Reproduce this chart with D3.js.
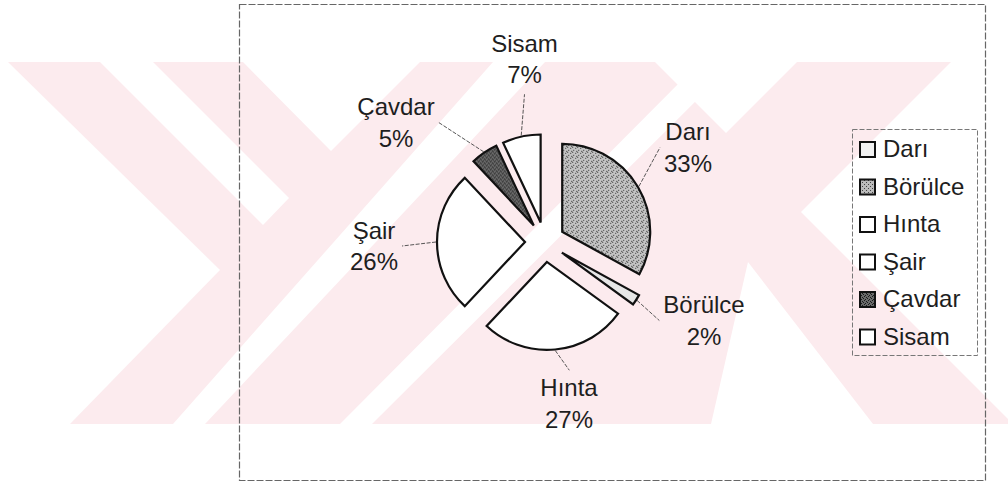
<!DOCTYPE html>
<html>
<head>
<meta charset="utf-8">
<script src="https://cdnjs.cloudflare.com/ajax/libs/d3/7.8.5/d3.min.js"></script>
<style>
  body { margin: 0; background: #fff; }
  text { font-family: "Liberation Sans", Arial, sans-serif; fill: #1e1e1e; }
</style>
</head>
<body>
<div id="main"></div>
<script>
// data
var crops = ["Darı", "Börülce", "Hınta", "Şair", "Çavdar", "Sisam"];
var shares = [33, 2, 27, 26, 5, 7];

// label block offsets from the pie centre (layout only)
var labelOffsets = [[143, -94], [159, 79], [24, 162], [-171, 4.5], [-149, -119], [-20.5, -182.5]];

// fills
var pieFills = ["url(#dari)", "#e6e6e6", "#fff", "#fff", "url(#cavdar)", "#fff"];
var legendFills = ["#f2f2f2", "url(#borulce)", "#fff", "#fff", "url(#cavdar)", "#fff"];

// scanned-page watermark: pale band with white cut-outs (decoration only)
var wmGaps = [
  [[0,62],[8,62],[220,270],[70,424],[0,424]],
  [[100,62],[153,62],[289,198],[263,225]],
  [[243,62],[420,62],[331,151]],
  [[493,62],[545,62],[205,424],[173,424]],
  [[700,62],[735,62],[372,424],[340,424]],
  [[655,62],[797,62],[726,133]],
  [[748,262],[873,424],[711,424]],
  [[801,212],[951,62],[1008,62],[1008,419]]
];

var width = 1008, height = 484;
var bandTop = 62, bandBottom = 424;
var cx = 545, cy = 242, radius = 88, explode = 20;
var fontSize = 24, lineGap = 31.5;

var svg = d3.select('#main').append('svg')
  .attr('width', width).attr('height', height);

var defs = svg.append('defs');

// stipple patterns
function stipple(id, bg, dot, size, pts){
  var p = defs.append('pattern').attr('id', id)
    .attr('patternUnits', 'userSpaceOnUse')
    .attr('width', size).attr('height', size);
  p.append('rect').attr('width', size).attr('height', size).attr('fill', bg);
  pts.forEach(function(q){
    p.append('rect').attr('x', q[0]).attr('y', q[1]).attr('width', 1).attr('height', 1).attr('fill', dot);
  });
}
stipple('dari', '#c4c4c4', '#333', 5, [[0,0],[3,1],[1,3],[4,4]]);
stipple('borulce', '#bcbcbc', '#444', 4, [[0,0],[2,2]]);
stipple('cavdar', '#6a6a6a', '#1a1a1a', 4, [[0,0],[2,1],[1,3],[3,2]]);

// watermark
var wm = svg.append('g');
wm.append('rect').attr('x', 0).attr('y', bandTop).attr('width', width).attr('height', bandBottom - bandTop)
  .attr('fill', '#fcebee');
wm.selectAll('polygon').data(wmGaps).enter().append('polygon')
  .attr('points', function(d){ return d.join(' '); })
  .attr('fill', '#fff');

// chart frame
svg.append('rect').attr('x', 239.5).attr('y', 4.5).attr('width', 746).attr('height', 476)
  .attr('fill', 'none').attr('stroke', '#666').attr('stroke-width', 1.2).attr('stroke-dasharray', '7 2');

// pie
var pie = d3.pie().sort(null).value(function(d){ return d; });
var arcs = pie(shares);
var arc = d3.arc().innerRadius(0).outerRadius(radius);

function dir(a){ return [Math.sin(a), -Math.cos(a)]; }

var slices = svg.append('g').attr('transform', 'translate(' + cx + ',' + cy + ')');
slices.selectAll('path').data(arcs).enter().append('path')
  .attr('d', arc)
  .attr('transform', function(d){
    var m = dir((d.startAngle + d.endAngle) / 2);
    return 'translate(' + (m[0] * explode) + ',' + (m[1] * explode) + ')';
  })
  .attr('fill', function(d, i){ return pieFills[i]; })
  .attr('stroke', '#111').attr('stroke-width', 2.2).attr('stroke-linejoin', 'miter');

// data labels with leader lines
var labels = svg.append('g');
arcs.forEach(function(d, i){
  var lx = cx + labelOffsets[i][0], ly = cy + labelOffsets[i][1];
  var t = labels.append('text').attr('text-anchor', 'middle').style('font-size', fontSize + 'px');
  t.append('tspan').attr('x', lx).attr('y', ly - 7.75).text(crops[i]);
  t.append('tspan').attr('x', lx).attr('y', ly - 7.75 + lineGap).text(d3.format('d')(shares[i]) + '%');
  var bb = t.node().getBBox();
  var m = dir((d.startAngle + d.endAngle) / 2);
  var px = cx + m[0] * (radius + explode + 1), py = cy + m[1] * (radius + explode + 1);
  var hw = bb.width / 2, hh = bb.height / 2;
  var bx = bb.x + hw, by = bb.y + hh;
  var ex, ey;
  if (Math.abs(px - bx) / hw > Math.abs(py - by) / hh) {
    ex = px < bx ? bb.x - 4 : bb.x + bb.width + 4; ey = by;
  } else {
    ex = bx; ey = py < by ? bb.y - 4 : bb.y + bb.height + 6;
  }
  labels.append('line').attr('x1', px).attr('y1', py).attr('x2', ex).attr('y2', ey)
    .attr('stroke', '#444').attr('stroke-width', 0.9).attr('stroke-dasharray', '4 1.5');
});

// legend
var legX = 852, legY = 129, rowStep = 37.5;
var legend = svg.append('g');
legend.append('rect').attr('x', legX + 0.5).attr('y', legY + 0.5)
  .attr('width', 125).attr('height', 226)
  .attr('fill', 'none').attr('stroke', '#777').attr('stroke-dasharray', '5 2');
crops.forEach(function(c, i){
  var base = legY + 28 + i * rowStep;
  legend.append('rect').attr('x', legX + 8).attr('y', base - 15)
    .attr('width', 15).attr('height', 15)
    .attr('fill', legendFills[i]).attr('stroke', '#111').attr('stroke-width', 2);
  legend.append('text').attr('x', legX + 31).attr('y', base)
    .style('font-size', fontSize + 'px').text(c);
});
</script>
</body>
</html>
